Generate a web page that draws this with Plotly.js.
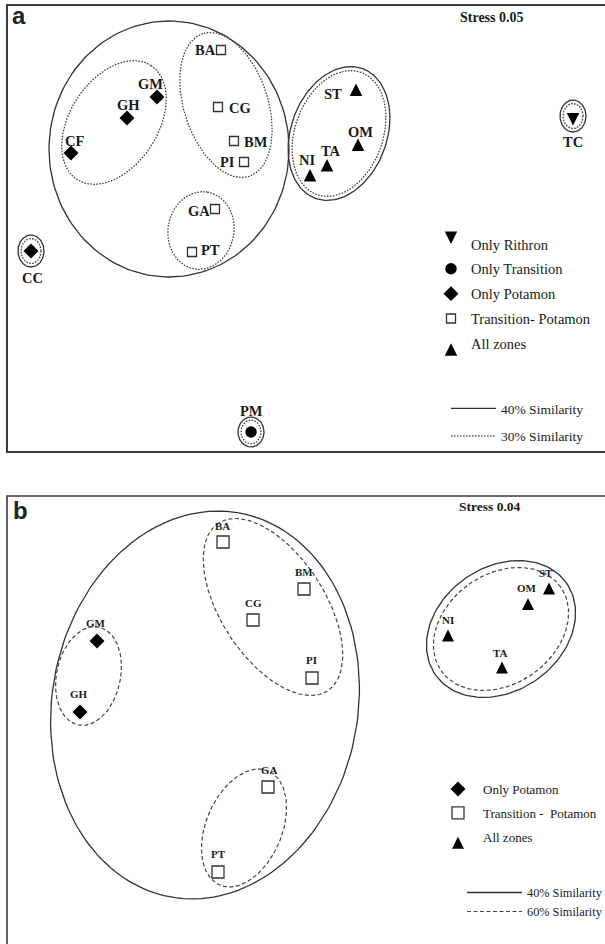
<!DOCTYPE html>
<html><head><meta charset="utf-8">
<script src="https://cdn.plot.ly/plotly-3.0.1.min.js"></script>
<style>html,body{margin:0;padding:0;background:#fff}</style>
</head><body><div id="chart" style="width:605px;height:944px"></div>
<script>
// ---------- Panel a: nMDS site scores (arbitrary units) ----------
const sitesA = ['BA','CG','BM','PI','GA','PT','GM','GH','CF','CC','PM','ST','OM','TA','NI','TC'];
const xA     = [221, 218, 234, 244, 215, 192, 157, 127, 71, 31, 251, 356, 358, 327, 310, 573];
const yA     = [402, 345, 311, 290, 243, 200, 355, 334, 299, 201, 20, 368.5, 313.5, 293, 283, 326.5];
const zoneA  = ['TP','TP','TP','TP','TP','TP','P','P','P','P','T','A','A','A','A','R'];
// label offsets (px) — style only
const ldxA = [-16, 22, 22, -17, -16, 18, -7, 1, 3, 1.5, 0, -23, 2, 4, -3, 0];
const ldyA = [0, 1, 1, 0, 2, -2, -13, -13, -12, 27, -21, 10, -7, -8, -9, 16];

// similarity groups, panel a (ellipse centre, semi-axes, angle, level)
const ellA_cx  = [169, 114, 226, 201, 339, 339, 573, 573, 31, 31, 251, 251];
const ellA_cy  = [303, 329.5, 347, 221.5, 318.5, 318.5, 336, 336, 201, 201, 20, 20];
const ellA_a   = [120, 68, 75, 39, 69, 65, 13, 10, 13, 10, 13, 10];
const ellA_b   = [128, 44, 42, 33, 48, 44, 16, 12.5, 16, 12.5, 15, 12];
const ellA_ang = [0, 57, 108, 80, 70, 70, 0, 0, 0, 0, 0, 0];
const ellA_lvl = ['40','30','30','30','40','30','40','30','40','30','40','30'];

// ---------- Panel b ----------
const sitesB = ['BA','CG','BM','PI','GA','PT','GM','GH','NI','OM','ST','TA'];
const xB     = [223, 253, 304, 312, 268, 218, 97, 80, 448, 528, 549, 502];
const yB     = [402, 324, 355, 266, 157, 72, 303, 232, 314.5, 346, 361.5, 282.5];
const zoneB  = ['TP','TP','TP','TP','TP','TP','P','P','A','A','A','A'];
const ldxB = [-1, 0, 0, -1, 1, 0, -1, -1, 0, -1, -3, -2];
const ldyB = [-16, -17, -17, -18, -17, -18, -18, -18, -9.5, -10, -9.5, -8.5];

const ellB_cx  = [205, 273, 88.5, 244, 501, 501];
const ellB_cy  = [239, 337, 268, 116, 315, 315];
const ellB_a   = [195, 100, 50, 62, 80, 73];
const ellB_b   = [153, 52, 32, 38, 62, 55];
const ellB_ang = [80, 123, 78, 67, 35, 35];
const ellB_lvl = ['40','60','60','60','40','60'];

// legend categories
const catsA = ['R','T','P','TP','A'];
const catNamesA = ['Only Rithron','Only Transition','Only Potamon','Transition- Potamon','All zones'];
const catsB = ['P','TP','A'];
const catNamesB = ['Only Potamon','Transition -  Potamon','All zones'];
const levelNames = {'40':'40% Similarity','30':'30% Similarity','60':'60% Similarity'};

// ---------- styles ----------
const SYM = {R:'arrow-down', T:'circle', P:'diamond', TP:'square-open', A:'arrow-up'};
const SIZE_A = {R:12.5, T:11.5, P:11.5, TP:9, A:12.5};
const SIZE_B = {P:11.5, TP:12, A:12};
const LINE = {
  '40': {color:'#333', width:1.3, dash:'solid'},
  '30': {color:'#444', width:1.3, dash:'1.6px,1.4px'},
  '60': {color:'#444', width:1.2, dash:'4px,2.5px'}
};
const SERIF = 'Liberation Serif';
const SANS = 'Liberation Sans';

function ellipse(cx, cy, a, b, angDeg) {
  const th = angDeg * Math.PI / 180, xs = [], ys = [];
  for (let i = 0; i <= 160; i++) {
    const t = 2 * Math.PI * i / 160;
    xs.push(cx + a * Math.cos(t) * Math.cos(th) - b * Math.sin(t) * Math.sin(th));
    ys.push(cy + a * Math.cos(t) * Math.sin(th) + b * Math.sin(t) * Math.cos(th));
  }
  return {xs, ys};
}

const traces = [];
function addEllipses(cx, cy, a, b, ang, lvl, xa, ya, legendId, order) {
  const shown = {};
  for (let i = 0; i < cx.length; i++) {
    const e = ellipse(cx[i], cy[i], a[i], b[i], ang[i]);
    const first = !shown[lvl[i]]; shown[lvl[i]] = true;
    traces.push({
      type:'scatter', mode:'lines', x:e.xs, y:e.ys, xaxis:xa, yaxis:ya,
      line:Object.assign({}, LINE[lvl[i]]),
      name:levelNames[lvl[i]], legend:legendId, legendgroup:legendId + lvl[i],
      legendrank: order.indexOf(lvl[i]), showlegend:first, hoverinfo:'skip'
    });
  }
}
addEllipses(ellA_cx, ellA_cy, ellA_a, ellA_b, ellA_ang, ellA_lvl, 'x', 'y', 'legend2', ['40','30']);
addEllipses(ellB_cx, ellB_cy, ellB_a, ellB_b, ellB_ang, ellB_lvl, 'x2', 'y2', 'legend4', ['40','60']);

function addPoints(cats, names, xs, ys, zones, sizes, xa, ya, legendId) {
  cats.forEach((c, k) => {
    const px = [], py = [];
    zones.forEach((z, i) => { if (z === c) { px.push(xs[i]); py.push(ys[i]); } });
    const open = SYM[c].indexOf('open') >= 0;
    traces.push({
      type:'scatter', mode:'markers', x:px, y:py, xaxis:xa, yaxis:ya,
      name:names[k], legend:legendId, legendgroup:legendId + c, legendrank:k,
      marker:{symbol:SYM[c], size:sizes[c], color: open ? '#333' : '#000',
              line:{width: open ? 1.3 : 0, color:'#333'}},
      hoverinfo:'skip', cliponaxis:false
    });
  });
}
addPoints(catsA, catNamesA, xA, yA, zoneA, SIZE_A, 'x', 'y', 'legend');
addPoints(catsB, catNamesB, xB, yB, zoneB, SIZE_B, 'x2', 'y2', 'legend3');

// site labels
const annotations = [];
sitesA.forEach((s, i) => annotations.push({
  xref:'x', yref:'y', x:xA[i], y:yA[i], text:'<b>' + s + '</b>', showarrow:false,
  xanchor:'center', yanchor:'middle', xshift:ldxA[i], yshift:-ldyA[i],
  font:{family:SERIF, size:14.5, color:'#1a1a1a'}
}));
sitesB.forEach((s, i) => annotations.push({
  xref:'x2', yref:'y2', x:xB[i], y:yB[i], text:'<b>' + s + '</b>', showarrow:false,
  xanchor:'center', yanchor:'middle', xshift:ldxB[i], yshift:-ldyB[i],
  font:{family:SERIF, size:11, color:'#1a1a1a'}
}));
const W = 605, H = 944;
annotations.push(
  {xref:'paper', yref:'paper', x:492/W, y:1-17/H, text:'<b>Stress 0.05</b>', showarrow:false,
   xanchor:'center', yanchor:'middle', font:{family:SERIF, size:14, color:'#1a1a1a'}},
  {xref:'paper', yref:'paper', x:490/W, y:1-507/H, text:'<b>Stress 0.04</b>', showarrow:false,
   xanchor:'center', yanchor:'middle', font:{family:SERIF, size:13.5, color:'#1a1a1a'}},
  {xref:'paper', yref:'paper', x:19/W, y:1-16/H, text:'<b>a</b>', showarrow:false,
   xanchor:'center', yanchor:'middle', font:{family:SANS, size:24, color:'#222'}},
  {xref:'paper', yref:'paper', x:20/W, y:1-511/H, text:'<b>b</b>', showarrow:false,
   xanchor:'center', yanchor:'middle', font:{family:SANS, size:24, color:'#222'}}
);

const hidden = {showgrid:false, zeroline:false, showticklabels:false, ticks:'', showline:false, fixedrange:true};
const legBase = {bgcolor:'rgba(0,0,0,0)', borderwidth:0, xanchor:'left', yanchor:'top',
                 traceorder:'grouped', orientation:'v'};

const layout = {
  width:W, height:H, margin:{l:0, r:0, t:0, b:0, autoexpand:false},
  paper_bgcolor:'#fff', plot_bgcolor:'rgba(0,0,0,0)',
  font:{family:SERIF},
  xaxis: Object.assign({domain:[7/W, 1], range:[7, 605], anchor:'y'}, hidden),
  yaxis: Object.assign({domain:[1-452/H, 1-5/H], range:[0, 447], anchor:'x'}, hidden),
  xaxis2: Object.assign({domain:[7/W, 1], range:[7, 605], anchor:'y2'}, hidden),
  yaxis2: Object.assign({domain:[0, 1-496/H], range:[0, 448], anchor:'x2'}, hidden),
  showlegend:true,
  legend: Object.assign({}, legBase, {x:431/W, y:1-228/H, tracegroupgap:3,
          font:{family:SERIF, size:14.5, color:'#1a1a1a'}}),
  legend2: Object.assign({}, legBase, {x:446/W, y:1-393/H, tracegroupgap:7, itemwidth:45,
          font:{family:SERIF, size:13.5, color:'#1a1a1a'}}),
  legend3: Object.assign({}, legBase, {x:433/W, y:1-774/H, tracegroupgap:4, itemwidth:40,
          font:{family:SERIF, size:13, color:'#1a1a1a'}}),
  legend4: Object.assign({}, legBase, {x:462/W, y:1-878/H, tracegroupgap:0, itemwidth:55,
          font:{family:SERIF, size:12.3, color:'#1a1a1a'}}),
  shapes: [
    {type:'rect', xref:'paper', yref:'paper', x0:7/W, x1:1.05, y0:1-452/H, y1:1-5/H,
     line:{color:'#3a3a3a', width:2}, layer:'above'},
    {type:'rect', xref:'paper', yref:'paper', x0:7/W, x1:1.05, y0:-0.05, y1:1-496/H,
     line:{color:'#3a3a3a', width:1.6}, layer:'above'}
  ],
  annotations: annotations
};

Plotly.newPlot('chart', traces, layout, {displayModeBar:false, staticPlot:true});
</script>
</body></html>
